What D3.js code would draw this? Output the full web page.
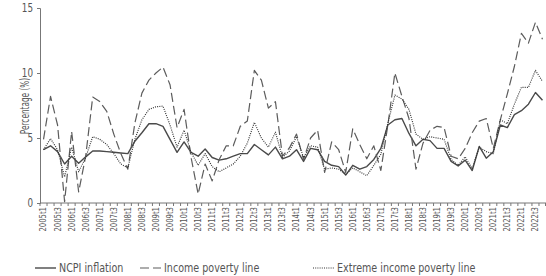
<!DOCTYPE html>
<html>
<head>
<meta charset="utf-8">
<script src="https://cdn.jsdelivr.net/npm/d3@7"></script>
<style>
  body { margin: 0; background: #fff; }
  text { font-family: "Liberation Sans Narrow", "DejaVu Sans Condensed", "Roboto Condensed", "Liberation Sans", sans-serif; fill: #555; }
</style>
</head>
<body>
<div id="chart"></div>
<script>
// Quarters 2005t1 .. 2022t4
const years = d3.range(2005, 2023);
const quarters = years.flatMap(y => [1, 2, 3, 4].map(q => `${y}t${q}`));
// only t1 and t3 get a label
const labelledQuarters = quarters.filter(q => q.endsWith("t1") || q.endsWith("t3"));

// values (%)
const ncpi = [
  4.1, 4.4, 3.95, 3.0, 3.6, 3.05, 3.55, 4.0,
  4.0, 3.95, 3.9, 3.85, 3.8, 4.75, 5.4, 6.1,
  6.1, 5.9, 4.9, 3.9, 4.7, 3.9, 3.6, 4.15,
  3.5, 3.3, 3.4, 3.6, 3.8, 3.8, 4.5, 4.1,
  3.7, 4.3, 3.4, 3.6, 4.1, 3.2, 4.2, 4.1,
  3.2, 2.9, 2.8, 2.15, 2.9, 2.6, 2.8, 3.35,
  4.2, 6.0, 6.4, 6.5, 5.35, 4.4, 4.9, 4.8,
  4.2, 4.2, 3.2, 2.85, 3.3, 2.5, 4.35, 3.45,
  3.95, 6.0, 5.8, 6.8, 7.1, 7.6, 8.5, 7.9
];
const incomeLine = [
  4.9, 8.2, 6.0, 0.1, 5.5, 0.85, 3.6, 8.15,
  7.8, 7.05, 5.3, 3.8, 2.6, 6.15, 8.45, 9.45,
  10.0, 10.45, 9.1, 5.8, 7.2, 3.5, 0.7, 3.0,
  1.7, 3.35, 4.4, 4.4, 5.9, 6.3, 10.2, 9.45,
  7.3, 7.8, 3.6, 4.25, 5.3, 3.35, 5.0, 5.6,
  2.35, 4.7, 4.1, 2.35, 5.7, 4.5, 3.4, 4.4,
  2.5, 6.0, 10.0, 8.2, 6.5, 2.6, 4.6, 5.6,
  5.9, 5.8, 3.6, 3.4, 4.2, 5.4, 6.3, 6.5,
  4.2, 6.4, 8.4, 10.5, 13.05, 12.3, 13.9, 12.6
];
const extremeLine = [
  4.1, 4.95, 4.1, 2.0, 4.3, 2.4, 3.5, 5.1,
  4.9, 4.5, 3.8, 3.0, 2.7, 4.9, 6.4, 7.2,
  7.4, 7.45, 6.0, 4.3, 5.6, 3.9, 2.9, 3.8,
  2.8, 2.4, 2.7, 3.0, 3.6, 4.6, 6.2, 5.0,
  4.3, 5.45, 3.5, 4.0, 5.1, 3.5, 4.4, 4.3,
  2.6, 2.7, 2.6, 2.2, 2.7, 2.4, 2.1, 2.9,
  3.75, 6.15, 8.3, 8.0, 7.2, 5.3, 4.9, 5.1,
  5.0, 4.9, 3.35, 2.9, 3.55, 2.65, 4.3, 3.95,
  3.8, 6.4, 6.1, 7.6, 8.9, 8.9, 10.2, 9.35
];
const yTicks = [0, 5, 10, 15];

const seriesInfo = [
  { label: "NCPI inflation", values: ncpi, color: "#4a4a4a", width: 1.4, dash: null },
  { label: "Income poverty line", values: incomeLine, color: "#5c5c5c", width: 1.2, dash: "9,4" },
  { label: "Extreme income poverty line", values: extremeLine, color: "#333", width: 1.15, dash: "1,1.2" }
];

const width = 546;
const height = 276;
const margin = { top: 8, right: 0, bottom: 73, left: 40 };

// squeeze text horizontally, the original uses a condensed face
const condense = (selection, factor) => {
  selection.each(function() {
    const len = this.getComputedTextLength();
    d3.select(this)
      .attr("textLength", len * factor)
      .attr("lengthAdjust", "spacingAndGlyphs");
  });
};

const svg = d3.select("#chart")
  .append("svg")
    .attr("width", width)
    .attr("height", height);

// X scale - categories, points sit in the middle of each band
const xScale = d3.scaleBand()
  .domain(quarters)
  .range([margin.left, width])
  .padding(0);
const xMid = q => xScale(q) + xScale.bandwidth() / 2;

// Y scale
const yScale = d3.scaleLinear()
  .domain([0, 15])
  .range([height - margin.bottom, margin.top]);

const axisColor = "#777";

// Y axis
const leftAxis = d3.axisLeft(yScale)
  .tickValues(yTicks)
  .tickSize(3)
  .tickPadding(4)
  .tickFormat(d3.format("d"));
const yAxis = svg
  .append("g")
    .attr("class", "axis axis-y")
    .attr("transform", `translate(${margin.left}, 0)`)
    .call(leftAxis);
yAxis.select(".domain").attr("stroke", axisColor);
yAxis.selectAll(".tick line").attr("stroke", axisColor);
yAxis.selectAll(".tick text")
  .style("font-size", "11.5px")
  .attr("fill", "#555")
  .call(condense, 0.85);

// Y axis title
svg
  .append("text")
    .text("Percentage (%)")
    .attr("transform", `translate(25, 106) rotate(-90)`)
    .attr("text-anchor", "middle")
    .attr("dy", "0.35em")
    .style("font-size", "12px")
    .call(condense, 0.68);

// X axis: ticks between categories, labels in the middle
const xAxis = svg.append("g").attr("class", "axis axis-x");
xAxis.append("line")
  .attr("x1", margin.left)
  .attr("x2", width)
  .attr("y1", yScale(0))
  .attr("y2", yScale(0))
  .attr("stroke", axisColor);
xAxis.selectAll(".xtick")
  .data(quarters.concat(["end"]))
  .join("line")
    .attr("class", "xtick")
    .attr("x1", d => d === "end" ? width - 0.5 : xScale(d))
    .attr("x2", d => d === "end" ? width - 0.5 : xScale(d))
    .attr("y1", yScale(0))
    .attr("y2", yScale(0) + 3)
    .attr("stroke", axisColor);
xAxis.selectAll(".xlabel")
  .data(labelledQuarters)
  .join("text")
    .attr("class", "xlabel")
    .text(d => d)
    .attr("transform", d => `translate(${xMid(d)}, ${yScale(0) + 4}) rotate(-90)`)
    .attr("text-anchor", "end")
    .attr("dy", "0.35em")
    .style("font-size", "8.5px")
    .call(condense, 0.9);

// Lines
const lineGenerator = values => d3.line()
  .x((d, i) => xMid(quarters[i]))
  .y(d => yScale(d))(values);

svg.append("g")
  .selectAll("path")
  .data(seriesInfo)
  .join("path")
    .attr("d", d => lineGenerator(d.values))
    .attr("fill", "none")
    .attr("stroke", d => d.color)
    .attr("stroke-width", d => d.width)
    .attr("stroke-dasharray", d => d.dash)
    .attr("stroke-linejoin", "round");

// Legend
const legendY = 268;
const legendX = [35, 140, 313];
const legend = svg.append("g")
  .selectAll("g")
  .data(seriesInfo)
  .join("g")
    .attr("transform", (d, i) => `translate(${legendX[i]}, ${legendY})`);
legend.append("line")
  .attr("x1", 0)
  .attr("x2", 21)
  .attr("stroke", d => d.color)
  .attr("stroke-width", d => d.width)
  .attr("stroke-dasharray", d => d.dash);
legend.append("text")
  .text(d => d.label)
  .attr("x", 24)
  .attr("dy", "0.35em")
  .style("font-size", "12.5px")
  .attr("fill", "#444")
  .call(condense, 0.85);
</script>
</body>
</html>
